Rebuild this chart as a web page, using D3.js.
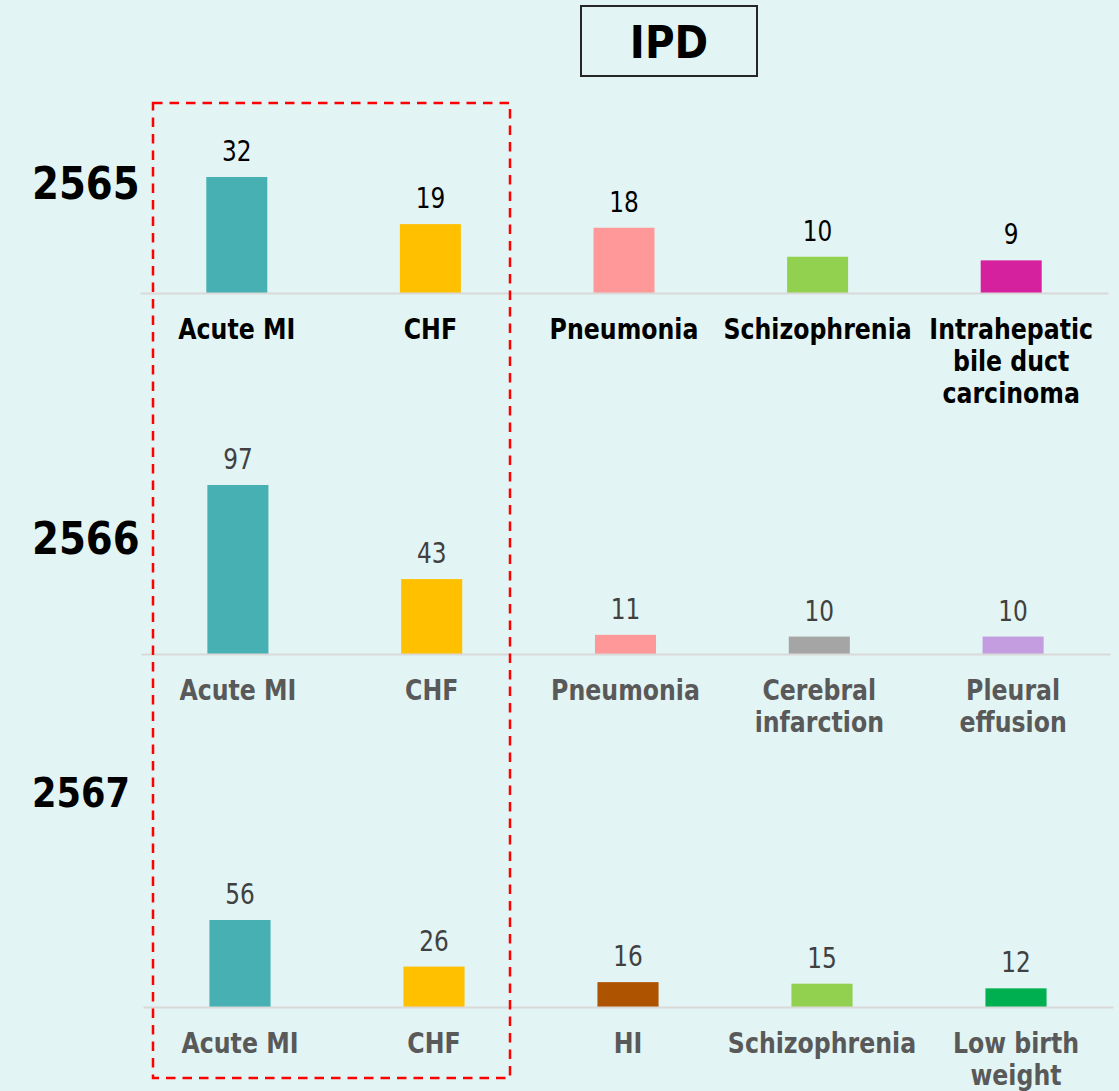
<!DOCTYPE html>
<html>
<head>
<meta charset="utf-8">
<script src="https://cdn.jsdelivr.net/npm/d3@7"></script>
<style>
  html, body { margin: 0; padding: 0; background: #e2f4f3; }
  svg { display: block; font-family: "DejaVu Sans", Verdana, sans-serif; }
</style>
</head>
<body>
<div id="chart"></div>
<script>
// data
const years = ["2565", "2566", "2567"];

const cats2565 = ["Acute MI", "CHF", "Pneumonia", "Schizophrenia", "Intrahepatic\nbile duct\ncarcinoma"];
const vals2565 = [32, 19, 18, 10, 9];
const colors2565 = ["#46b0b3", "#ffc000", "#ff9999", "#92d050", "#d6219f"];

const cats2566 = ["Acute MI", "CHF", "Pneumonia", "Cerebral\ninfarction", "Pleural\neffusion"];
const vals2566 = [97, 43, 11, 10, 10];
const colors2566 = ["#46b0b3", "#ffc000", "#ff9999", "#a5a5a5", "#c39de0"];

const cats2567 = ["Acute MI", "CHF", "HI", "Schizophrenia", "Low birth\nweight"];
const vals2567 = [56, 26, 16, 15, 12];
const colors2567 = ["#46b0b3", "#ffc000", "#ae5300", "#92d050", "#00b050"];

const title = "IPD";

const width = 1119, height = 1091;

const svg = d3.select("#chart").append("svg")
  .attr("width", width)
  .attr("height", height);

svg.append("rect").attr("width", width).attr("height", height).attr("fill", "#e2f4f3");

// title box
svg.append("rect")
  .attr("x", 581).attr("y", 6).attr("width", 176).attr("height", 70)
  .attr("fill", "none").attr("stroke", "#262626").attr("stroke-width", 2);
svg.append("text")
  .attr("transform", `translate(669,58) scale(0.9,1)`)
  .attr("text-anchor", "middle")
  .attr("font-weight", "bold").attr("font-size", 45).attr("fill", "#000")
  .text(title);

const panels = [
  { year: years[0], cats: cats2565, vals: vals2565, colors: colors2565, base: 293, h: 116, xr: [140, 1108], yearY: 199, yearSize: 44, valColor: "#000", catColor: "#000" },
  { year: years[1], cats: cats2566, vals: vals2566, colors: colors2566, base: 654, h: 169, xr: [141, 1110], yearY: 554, yearSize: 44, valColor: "#404040", catColor: "#595959" },
  { year: years[2], cats: cats2567, vals: vals2567, colors: colors2567, base: 1007, h: 87, xr: [143, 1113], yearY: 807, yearSize: 40, valColor: "#404040", catColor: "#595959" }
];

panels.forEach(p => {
  const x = d3.scaleBand()
    .domain(p.cats)
    .range(p.xr)
    .paddingInner(0.685)
    .paddingOuter(0.3425);

  const y = d3.scaleLinear()
    .domain([0, d3.max(p.vals)])
    .range([p.base, p.base - p.h]);

  const data = p.cats.map((c, i) => ({ cat: c, val: p.vals[i], color: p.colors[i] }));

  // bars
  svg.selectAll(null)
    .data(data)
    .enter()
    .append("rect")
    .attr("x", d => x(d.cat))
    .attr("y", d => y(d.val))
    .attr("width", x.bandwidth())
    .attr("height", d => p.base - y(d.val))
    .attr("fill", d => d.color);

  // value labels
  svg.selectAll(null)
    .data(data)
    .enter()
    .append("text")
    .attr("transform", d => `translate(${x(d.cat) + x.bandwidth() / 2},${y(d.val) - 16}) scale(0.8,1)`)
    .attr("text-anchor", "middle")
    .attr("font-size", 29)
    .attr("fill", p.valColor)
    .text(d => d.val);

  // category axis
  const axis = svg.append("g")
    .attr("transform", `translate(0,${p.base})`)
    .call(d3.axisBottom(x).tickSize(0).tickSizeOuter(0));
  axis.select(".domain").attr("stroke", "#d9d9d9").attr("stroke-width", 2);
  axis.selectAll(".tick text").remove();
  axis.selectAll(".tick").each(function(d) {
    const t = d3.select(this).append("text")
      .attr("transform", `translate(0,46) scale(0.83,1)`)
      .attr("text-anchor", "middle")
      .attr("font-size", 28.5)
      .attr("font-weight", "bold")
      .attr("font-family", "DejaVu Sans")
      .attr("fill", p.catColor);
    d.split("\n").forEach((line, i) => {
      t.append("tspan").attr("x", 0).attr("dy", i === 0 ? 0 : 32).text(line);
    });
  });

  // year label
  svg.append("text")
    .attr("transform", `translate(32,${p.yearY}) scale(0.88,1)`)
    .attr("font-size", p.yearSize)
    .attr("font-weight", "bold")
    .attr("fill", "#000")
    .text(p.year);
});

// dashed highlight around the first two categories
svg.append("rect")
  .attr("x", 153).attr("y", 103).attr("width", 357).attr("height", 975)
  .attr("fill", "none")
  .attr("stroke", "#ff0000")
  .attr("stroke-width", 2.5)
  .attr("stroke-dasharray", "9.5,7");
</script>
</body>
</html>
